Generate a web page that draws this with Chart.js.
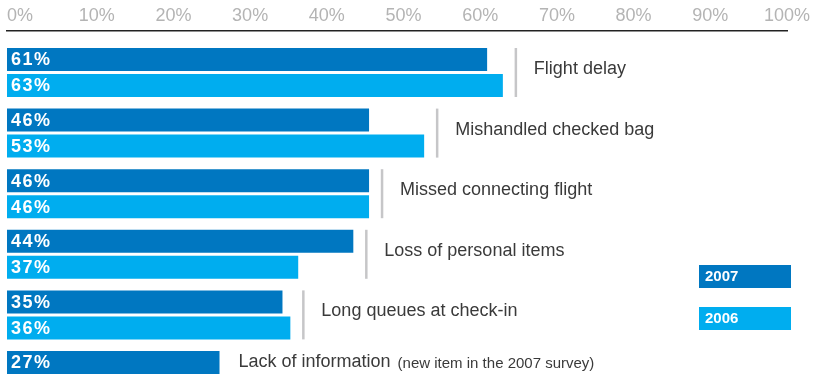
<!DOCTYPE html>
<html>
<head>
<meta charset="utf-8">
<script src="https://cdn.jsdelivr.net/npm/chart.js@4"></script>
<style>
 body { margin: 0; background: #fff; overflow: hidden; }
</style>
</head>
<body>
<canvas id="chart" width="819" height="379"></canvas>
<script>
const categories = ["Flight delay", "Mishandled checked bag", "Missed connecting flight",
 "Loss of personal items", "Long queues at check-in", "Lack of information"];
const notes = ["", "", "", "", "", "(new item in the 2007 survey)"];
const values2007 = [61, 46, 46, 44, 35, 27];
const values2006 = [63, 53, 46, 37, 36, null];
const tickValues = [0, 10, 20, 30, 40, 50, 60, 70, 80, 90, 100];
const seriesNames = ["2007", "2006"];
const seriesColors = ["#0077c1", "#00adef"];

const FONT = '"Liberation Sans", Arial, sans-serif';

function points(values) {
 return values.map((v, i) => ({ x: v, y: i }));
}

// value labels inside bars, category names with separators, legend boxes
const labelsPlugin = {
 id: "labels",
 afterDatasetsDraw(chart) {
 const ctx = chart.ctx;
 const area = chart.chartArea;
 const xs = chart.scales.x;
 const ys = chart.scales.y;
 const m0 = chart.getDatasetMeta(0);
 const m1 = chart.getDatasetMeta(1);
 ctx.save();
 ctx.textBaseline = "middle";
 ctx.textAlign = "left";
 ctx.fillStyle = "#fff";
 ctx.font = "bold 18px " + FONT;
 ctx.letterSpacing = "1.5px";
 [m0, m1].forEach((meta, d) => {
 const vals = d === 0 ? values2007 : values2006;
 meta.data.forEach((el, i) => {
 if (vals[i] == null) return;
 ctx.fillText(vals[i] + "%", area.left + 4, el.y + 1);
 });
 });
 ctx.letterSpacing = "0px";

 categories.forEach((name, i) => {
 const a = m0.data[i], b = m1.data[i];
 const hasPair = values2006[i] != null;
 const maxVal = Math.max(values2007[i], hasPair ? values2006[i] : 0);
 const end = xs.getPixelForValue(maxVal);
 let tx, ty;
 if (hasPair) {
 const lx = end + 13;
 ctx.strokeStyle = "#c6c6c8";
 ctx.lineWidth = 2.5;
 ctx.beginPath();
 ctx.moveTo(lx, a.y - a.height / 2);
 ctx.lineTo(lx, b.y + b.height / 2);
 ctx.stroke();
 tx = end + 31;
 ty = ys.getPixelForValue(i) - 3.5;
 } else {
 tx = end + 19;
 ty = a.y;
 }
 ctx.fillStyle = "#3a3a3a";
 ctx.font = "18px " + FONT;
 ctx.fillText(name, tx, ty);
 if (notes[i]) {
 const w = ctx.measureText(name + " ").width;
 ctx.font = "15px " + FONT;
 ctx.fillText(notes[i], tx + w + 2, ty + 1);
 }
 });
 ctx.restore();
 },
 afterDraw(chart) {
 const ctx = chart.ctx;
 ctx.save();
 ctx.textBaseline = "middle";
 ctx.font = "bold 15px " + FONT;
 chart.data.datasets.forEach((ds, d) => {
 const top = 265 + d * 42;
 ctx.fillStyle = ds.backgroundColor;
 ctx.fillRect(699, top, 92, 23);
 ctx.fillStyle = "#fff";
 ctx.fillText(ds.label, 705, top + 12);
 });
 ctx.restore();
 }
};

new Chart(document.getElementById("chart").getContext("2d"), {
 type: "bar",
 data: {
 datasets: [
 { label: seriesNames[0], data: points(values2007), backgroundColor: seriesColors[0], xAxisID: "x" },
 { label: seriesNames[1], data: points(values2006), backgroundColor: seriesColors[1], xAxisID: "x" }
 ]
 },
 options: {
 indexAxis: "y",
 responsive: false,
 animation: false,
 categoryPercentage: 0.858,
 barPercentage: 0.885,
 layout: { padding: { left: 7, right: 32, top: 0, bottom: 0 } },
 plugins: { legend: { display: false }, tooltip: { enabled: false } },
 scales: {
 x: { type: "linear", position: "top", min: 0, max: 99.1, display: false },
 x2: {
 type: "linear",
 position: "top",
 min: -1.7,
 max: 100,
 grid: { display: false, drawTicks: false },
 border: { display: true, color: "#222", width: 1.5 },
 afterBuildTicks: s => { s.ticks = tickValues.map(v => ({ value: v })); },
 afterFit: s => { s.height = 31; },
 ticks: {
 padding: 4,
 color: "#b4b4b4",
 font: { family: FONT, size: 18 },
 maxRotation: 0,
 autoSkip: false,
 callback: v => v + "%"
 }
 },
 y: {
 type: "linear",
 reverse: true,
 offset: false,
 grid: { offset: false },
 min: -0.685,
 max: 5.058,
 display: false,
 afterBuildTicks: s => { s.ticks = categories.map((c, i) => ({ value: i })); }
 }
 }
 },
 plugins: [labelsPlugin]
});
</script>
</body>
</html>
